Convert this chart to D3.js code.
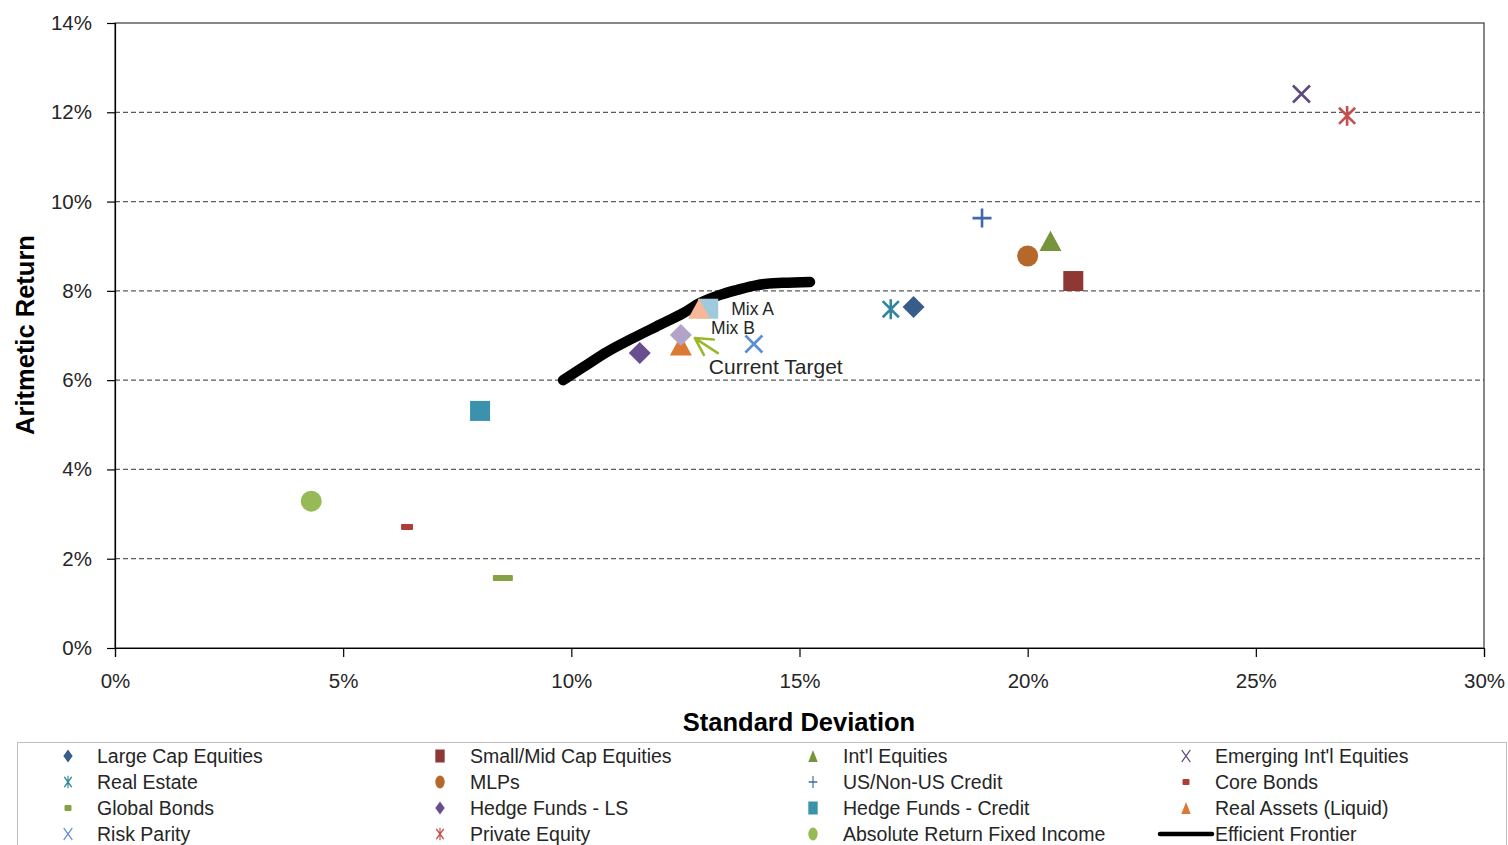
<!DOCTYPE html>
<html>
<head>
<meta charset="utf-8">
<script src="https://cdn.jsdelivr.net/npm/d3@7"></script>
<style>
  html, body { margin: 0; padding: 0; background: #fff; }
  svg { display: block; font-family: "Liberation Sans", Arial, sans-serif; }
</style>
</head>
<body>
<svg id="chart" width="1508" height="845"></svg>
<script>
// ---- Data (percent units) ----
const assetNames = [
  "Large Cap Equities", "Small/Mid Cap Equities", "Int'l Equities", "Emerging Int'l Equities",
  "Real Estate", "MLPs", "US/Non-US Credit", "Core Bonds",
  "Global Bonds", "Hedge Funds - LS", "Hedge Funds - Credit", "Real Assets (Liquid)",
  "Risk Parity", "Private Equity", "Absolute Return Fixed Income"
];
const assetStdDev = [17.5, 21.0, 20.5, 26.0, 17.0, 20.0, 19.0, 6.4, 8.5, 11.5, 8.0, 12.4, 14.0, 27.0, 4.3];
const assetReturn = [7.64, 8.22, 9.12, 12.41, 7.59, 8.78, 9.63, 2.71, 1.57, 6.61, 5.31, 6.78, 6.81, 11.92, 3.29];

const frontierStdDev = [9.82, 10.26, 10.78, 11.35, 11.94, 12.45, 12.82, 13.26, 13.63, 14.07, 14.64, 15.23];
const frontierReturn = [6.00, 6.29, 6.63, 6.94, 7.24, 7.50, 7.73, 7.91, 8.02, 8.13, 8.18, 8.20];

const portfolioNames = ["Mix A", "Mix B", "Current Target"];
const portfolioStdDev = [13.0, 12.8, 12.4];
const portfolioReturn = [7.60, 7.60, 7.01];

const xTicks = [0, 5, 10, 15, 20, 25, 30];
const yTicks = [0, 2, 4, 6, 8, 10, 12, 14];
const legendLabels = assetNames.concat(["Efficient Frontier"]);

// ---- Marker styles for each series ----
const assetStyle = [
  { shape: "diamond", color: "#385D8A", size: 11 },
  { shape: "square", color: "#8E3734", size: 10 },
  { shape: "triangle", color: "#77933C", size: 11 },
  { shape: "x", color: "#5F4A7E", size: 8.5 },
  { shape: "asterisk", color: "#31859C", size: 9.5 },
  { shape: "circle", color: "#B6672A", size: 10.5 },
  { shape: "plus", color: "#4069A8", size: 9.5 },
  { shape: "dash", color: "#B03C3A", size: 6 },
  { shape: "dash", color: "#86A244", size: 10 },
  { shape: "diamond", color: "#6A4D8E", size: 11 },
  { shape: "square", color: "#3A92AD", size: 10 },
  { shape: "triangle", color: "#DB7A32", size: 11 },
  { shape: "x", color: "#5A8ED0", size: 8.5 },
  { shape: "asterisk", color: "#C4504D", size: 9.5 },
  { shape: "circle", color: "#96BA55", size: 10.5 }
];
const portfolioStyle = [
  { shape: "square", color: "#9FCADD", size: 10 },
  { shape: "triangle", color: "#F6B899", size: 11 },
  { shape: "diamond", color: "#B3A3C9", size: 11 }
];

const svg = d3.select("#chart");
const plot = { left: 115, right: 1484, top: 23, bottom: 648 };

const x = d3.scaleLinear().domain([0, 30]).range([plot.left, plot.right]);
const y = d3.scaleLinear().domain([0, 14]).range([plot.bottom, plot.top]);

// Draw a marker of a given shape centred on the current origin of g
function drawMarker(g, st, legend) {
  const s = st.size;
  const c = st.color;
  if (st.shape === "diamond") {
    g.append("path").attr("d", `M0,${-s}L${s},0L0,${s}L${-s},0Z`).attr("fill", c);
  } else if (st.shape === "square") {
    g.append("rect").attr("x", -s).attr("y", -s).attr("width", 2 * s).attr("height", 2 * s).attr("fill", c);
  } else if (st.shape === "triangle") {
    g.append("path").attr("d", `M0,${-s * 0.92}L${s},${s * 0.92}L${-s},${s * 0.92}Z`).attr("fill", c);
  } else if (st.shape === "circle") {
    g.append("circle").attr("r", s).attr("fill", c);
  } else if (st.shape === "x") {
    g.append("path").attr("d", `M${-s},${-s}L${s},${s}M${-s},${s}L${s},${-s}`)
      .attr("stroke", c).attr("stroke-width", legend ? 1.6 : 2.6).attr("fill", "none");
  } else if (st.shape === "asterisk") {
    const d = s * 0.85;
    g.append("path").attr("d", `M${-d},${-d}L${d},${d}M${-d},${d}L${d},${-d}M0,${-s * 1.05}L0,${s * 1.05}`)
      .attr("stroke", c).attr("stroke-width", legend ? 1.6 : 2.6).attr("fill", "none");
  } else if (st.shape === "plus") {
    g.append("path").attr("d", `M${-s},0L${s},0M0,${-s}L0,${s}`)
      .attr("stroke", c).attr("stroke-width", legend ? 1.6 : 2.6).attr("fill", "none");
  } else if (st.shape === "dash") {
    g.append("rect").attr("x", -s).attr("y", -3).attr("width", 2 * s).attr("height", 6)
      .attr("rx", 1).attr("fill", c);
  }
}

// ---- Gridlines ----
svg.append("g")
  .selectAll("line")
  .data(yTicks.filter(t => t > 0 && t < 14))
  .join("line")
  .attr("x1", plot.left).attr("x2", plot.right)
  .attr("y1", d => y(d)).attr("y2", d => y(d))
  .attr("stroke", "#5a5a5a").attr("stroke-width", 1.2)
  .attr("stroke-dasharray", "5,3");

// ---- Plot frame ----
svg.append("rect")
  .attr("x", plot.left).attr("y", plot.top)
  .attr("width", plot.right - plot.left).attr("height", plot.bottom - plot.top)
  .attr("fill", "none").attr("stroke", "#3a3a3a").attr("stroke-width", 1.2);

// ---- Axes ----
const xAxis = svg.append("g")
  .attr("transform", `translate(0,${plot.bottom})`)
  .call(d3.axisBottom(x).tickValues(xTicks).tickSize(9).tickPadding(16).tickFormat(d => d + "%"));
const yAxis = svg.append("g")
  .attr("transform", `translate(${plot.left},0)`)
  .call(d3.axisLeft(y).tickValues(yTicks).tickSize(8).tickPadding(15).tickFormat(d => d + "%"));
[xAxis, yAxis].forEach(a => {
  a.select(".domain").attr("stroke", "#000").attr("stroke-width", 1.2);
  a.selectAll(".tick line").attr("stroke", "#000").attr("stroke-width", 1.2);
  a.selectAll(".tick text").attr("font-size", "20.5px").attr("fill", "#262626")
    .attr("font-family", "'Liberation Sans', Arial, sans-serif");
});

// ---- Axis titles ----
svg.append("text")
  .attr("x", 799).attr("y", 731)
  .attr("text-anchor", "middle")
  .attr("font-size", "25.5px").attr("font-weight", "bold").attr("fill", "#000")
  .text("Standard Deviation");
svg.append("text")
  .attr("transform", "translate(34,335) rotate(-90)")
  .attr("text-anchor", "middle")
  .attr("font-size", "25.5px").attr("font-weight", "bold").attr("fill", "#000")
  .text("Aritmetic Return");

// ---- Efficient frontier ----
const frontierPts = frontierStdDev.map((v, i) => [v, frontierReturn[i]]);
svg.append("path")
  .datum(frontierPts)
  .attr("d", d3.line().x(d => x(d[0])).y(d => y(d[1])).curve(d3.curveMonotoneX))
  .attr("fill", "none").attr("stroke", "#000").attr("stroke-width", 10.5)
  .attr("stroke-linecap", "round").attr("stroke-linejoin", "round");

// ---- Asset class markers ----
assetNames.forEach((name, i) => {
  const g = svg.append("g")
    .attr("class", "asset")
    .attr("transform", `translate(${x(assetStdDev[i])},${y(assetReturn[i])})`);
  drawMarker(g, assetStyle[i], false);
});

// ---- Portfolio markers ----
portfolioNames.forEach((name, i) => {
  const g = svg.append("g")
    .attr("class", "portfolio")
    .attr("transform", `translate(${x(portfolioStdDev[i])},${y(portfolioReturn[i])})`);
  drawMarker(g, portfolioStyle[i], false);
});

// Portfolio labels, offset from their markers
const labelOffsets = [[23, 0], [12, 19], [28, 31]];
const labelSizes = ["17.5px", "17.5px", "21px"];
portfolioNames.forEach((name, i) => {
  svg.append("text")
    .attr("x", x(portfolioStdDev[i]) + labelOffsets[i][0])
    .attr("y", y(portfolioReturn[i]) + labelOffsets[i][1])
    .attr("dominant-baseline", "central")
    .attr("font-size", labelSizes[i]).attr("fill", "#262626")
    .text(name);
});

// Arrow pointing at the current target
const arrowTail = [x(portfolioStdDev[2]) + 37, y(portfolioReturn[2]) + 18];
const arrowTip = [x(portfolioStdDev[2]) + 14, y(portfolioReturn[2]) + 3];
const ang = Math.atan2(arrowTail[1] - arrowTip[1], arrowTail[0] - arrowTip[0]);
const armLen = 19, spread = 0.5;
const arm1 = [arrowTip[0] + armLen * Math.cos(ang - spread), arrowTip[1] + armLen * Math.sin(ang - spread)];
const arm2 = [arrowTip[0] + armLen * Math.cos(ang + spread), arrowTip[1] + armLen * Math.sin(ang + spread)];
svg.append("path")
  .attr("d", `M${arrowTail[0]},${arrowTail[1]}L${arrowTip[0]},${arrowTip[1]}M${arm1[0]},${arm1[1]}L${arrowTip[0]},${arrowTip[1]}L${arm2[0]},${arm2[1]}`)
  .attr("fill", "none").attr("stroke", "#9AB82B").attr("stroke-width", 2.6)
  .attr("stroke-linecap", "round").attr("stroke-linejoin", "round");

// ---- Legend ----
const legend = svg.append("g");
legend.append("rect")
  .attr("x", 17.5).attr("y", 742.5).attr("width", 1489).attr("height", 120)
  .attr("fill", "none").attr("stroke", "#bfbfbf").attr("stroke-width", 1);

const colMarkerX = [68, 440, 813, 1186];
const colTextX = [97, 470, 843, 1215];
const rowY = [756, 782, 808, 834];
legendLabels.forEach((label, i) => {
  const col = i % 4, row = Math.floor(i / 4);
  const cy = rowY[row];
  if (i < assetStyle.length) {
    const st = assetStyle[i];
    const legendSize = st.shape === "dash" ? 3.5 : (st.shape === "x" || st.shape === "asterisk" || st.shape === "plus" ? 6 : 6.5);
    const g = legend.append("g")
      .attr("transform", `translate(${colMarkerX[col]},${cy}) scale(${st.shape === "dash" ? 1 : 0.72},1)`);
    drawMarker(g, { shape: st.shape, color: st.color, size: legendSize }, true);
  } else {
    legend.append("line")
      .attr("x1", 1160).attr("x2", 1212).attr("y1", cy).attr("y2", cy)
      .attr("stroke", "#000").attr("stroke-width", 4.5).attr("stroke-linecap", "round");
  }
  legend.append("text")
    .attr("x", colTextX[col]).attr("y", cy)
    .attr("dominant-baseline", "central")
    .attr("font-size", "19.5px").attr("fill", "#262626")
    .text(label);
});
</script>
</body>
</html>
